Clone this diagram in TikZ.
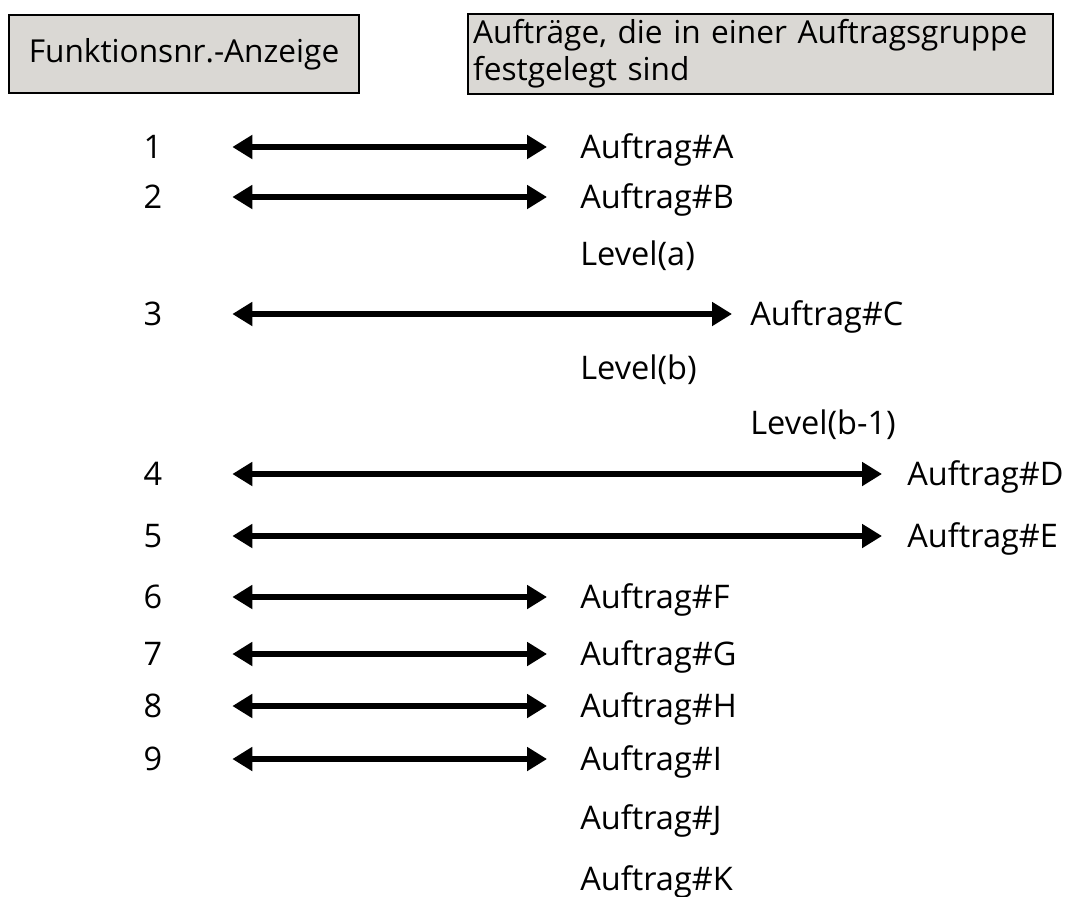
\documentclass[tikz,border=0pt]{standalone}
\usepackage{fontspec}
\setmainfont{Open Sans}
\usetikzlibrary{arrows.meta, positioning}

\definecolor{hdrgray}{RGB}{218,216,212}

\begin{document}
\begin{tikzpicture}[
    x=0.02cm, y=-0.02cm,
    hdr/.style={rectangle, draw, line width=1.2pt, fill=hdrgray,
                minimum height=1.56cm, inner xsep=0.1cm,
                font=\fontsize{18}{21}\selectfont},
    num/.style={inner sep=0pt, minimum width=0.4cm, text height=0.46cm,
                text depth=0cm, font=\fontsize{18.5}{21}\selectfont},
    job/.style={anchor=west, inner sep=0pt, text height=0.46cm,
                text depth=0cm, font=\fontsize{18.5}{21}\selectfont},
    arr/.style={{Triangle[length=0.4cm, width=0.46cm]}-{Triangle[length=0.4cm, width=0.46cm]},
                line width=0.13cm, shorten <=1.38cm},
]
    \useasboundingbox (0,0) rectangle (1067,896);

    % Header boxes
    \node[hdr, minimum width=7cm] (anzeige) at (184,54) {Funktionsnr.-Anzeige};
    \node[hdr, minimum width=11.7cm, text width=11.5cm, align=left] (gruppe) at (760.5,54)
        {Aufträge, die in einer Auftragsgruppe\\festgelegt sind};

    % Function numbers
    \node[num] (nr1) at (153,147) {1};
    \node[num] (nr2) at (153,197) {2};
    \node[num] (nr3) at (153,314) {3};
    \node[num] (nr4) at (153,474) {4};
    \node[num] (nr5) at (153,536) {5};
    \node[num] (nr6) at (153,597) {6};
    \node[num] (nr7) at (153,654) {7};
    \node[num] (nr8) at (153,706) {8};
    \node[num] (nr9) at (153,759) {9};

    % Jobs
    \node[job] (jobA) at (580,147) {Auftrag\#A};
    \node[job] (jobB) at (580,197) {Auftrag\#B};
    \node[job] (lva)  at (580,254) {Level(a)};
    \node[job] (jobC) at (750,314) {Auftrag\#C};
    \node[job] (lvb)  at (580,368) {Level(b)};
    \node[job] (lvb1) at (750,423) {Level(b-1)};
    \node[job] (jobD) at (907,474) {Auftrag\#D};
    \node[job] (jobE) at (907,536) {Auftrag\#E};
    \node[job] (jobF) at (580,597) {Auftrag\#F};
    \node[job] (jobG) at (580,654) {Auftrag\#G};
    \node[job] (jobH) at (580,706) {Auftrag\#H};
    \node[job] (jobI) at (580,759) {Auftrag\#I};
    \node[job] (jobJ) at (580,818) {Auftrag\#J};
    \node[job] (jobK) at (580,879) {Auftrag\#K};

    % Arrows: number <-> job
    \foreach \nr/\job/\gap in {1/A/0.66cm, 2/B/0.66cm, 3/C/0.36cm, 4/D/0.5cm,
                               5/E/0.5cm, 6/F/0.66cm, 7/G/0.66cm, 8/H/0.66cm, 9/I/0.66cm} {
        \draw[arr, shorten >=\gap] (nr\nr) -- (job\job);
    }
\end{tikzpicture}
\end{document}
